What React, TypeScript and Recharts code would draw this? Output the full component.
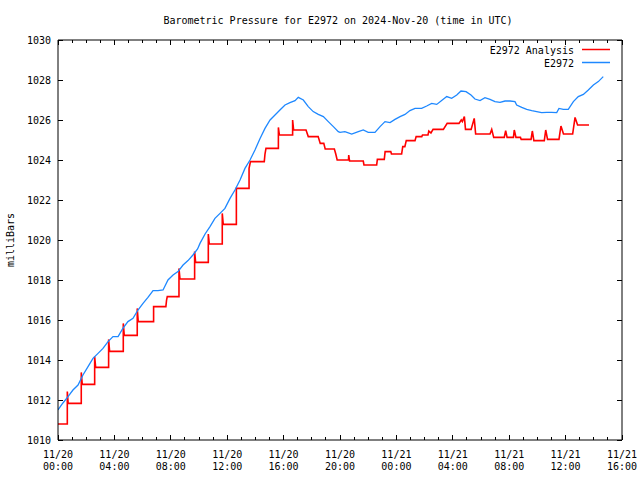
import { LineChart, Line, XAxis, YAxis, Legend } from "recharts";

// hours since 2024-11-20 00:00 UTC
const stationHours = [
  0, 0.35, 0.71, 1.06, 1.42, 1.77, 2.13, 2.48, 2.84, 3.19, 3.55, 3.9, 4.26, 4.6, 4.96,
  5.32, 5.67, 6.03, 6.38, 6.74, 7.09, 7.45, 7.8, 8.16, 8.51, 8.87, 9.22, 9.57, 9.9,
  10.07, 10.43, 10.78, 11.13, 11.49, 11.84, 12.2, 12.55, 12.91, 13.26, 13.62, 13.97,
  14.33, 14.68, 15.04, 15.39, 15.74, 16.1, 16.45, 16.81, 17.04, 17.4, 17.75, 18.1,
  18.46, 18.82, 19.17, 19.53, 19.88, 20.0, 20.35, 20.83, 21.3, 21.65, 22.0, 22.48,
  22.84, 23.19, 23.55, 23.9, 24.26, 24.61, 24.96, 25.32, 25.79, 26.15, 26.5, 26.86,
  27.21, 27.57, 27.92, 28.28, 28.58, 28.94, 29.29, 29.57, 29.93, 30.28, 30.64, 30.99,
  31.35, 31.7, 32.06, 32.41, 32.53, 32.89, 33.24, 33.6, 33.95, 34.3, 34.66, 35.01,
  35.37, 35.53, 35.84, 36.19, 36.55, 36.9, 37.26, 37.61, 37.97, 38.32, 38.67,
];
const stationValues = [
  1011.5, 1011.85, 1012.17, 1012.5, 1012.75, 1013.25, 1013.67, 1014.08, 1014.33, 1014.58,
  1014.92, 1015.17, 1015.17, 1015.58, 1015.92, 1016.08, 1016.5, 1016.83, 1017.13, 1017.47,
  1017.47, 1017.5, 1018.0, 1018.25, 1018.42, 1018.75, 1018.97, 1019.25, 1019.55, 1019.83,
  1020.3, 1020.67, 1021.08, 1021.33, 1021.58, 1022.08, 1022.5, 1023.0, 1023.58, 1024.0,
  1024.5, 1025.08, 1025.58, 1026.0, 1026.25, 1026.5, 1026.75, 1026.87, 1026.97, 1027.13,
  1027.0, 1026.67, 1026.42, 1026.28, 1026.17, 1025.92, 1025.67, 1025.42, 1025.38, 1025.42,
  1025.3, 1025.42, 1025.5, 1025.38, 1025.38, 1025.67, 1025.92, 1025.87, 1026.03, 1026.17,
  1026.28, 1026.47, 1026.58, 1026.58, 1026.7, 1026.83, 1026.78, 1026.97, 1027.17, 1027.08,
  1027.25, 1027.45, 1027.42, 1027.25, 1027.05, 1026.97, 1027.12, 1027.03, 1026.92, 1026.88,
  1026.95, 1026.95, 1026.92, 1026.75, 1026.63, 1026.53, 1026.47, 1026.42, 1026.37, 1026.38,
  1026.38, 1026.37, 1026.58, 1026.53, 1026.53, 1026.92, 1027.17, 1027.28, 1027.5, 1027.75,
  1027.92, 1028.17,
];

// analysis: stepped, vertices of the polyline
const analysisHours = [
  0, 0.66, 0.66, 0.72, 1.65, 1.65, 1.72, 2.6, 2.6, 2.67, 3.59, 3.59, 3.66, 4.63, 4.63,
  4.7, 5.62, 5.62, 5.69, 6.78, 6.78, 7.65, 7.7, 7.75, 8.58, 8.58, 8.65, 9.69, 9.69, 9.76,
  10.66, 10.66, 10.73, 11.65, 11.65, 11.72, 12.65, 12.65, 13.55, 13.55, 13.65, 14.63,
  14.68, 14.75, 15.63, 15.63, 15.7, 16.64, 16.64, 16.71, 17.59, 17.75, 18.45, 18.6, 18.85,
  18.95, 19.6, 19.7, 19.8, 20.6, 20.62, 20.68, 21.65, 21.7, 22.6, 22.65, 23.14, 23.2, 23.6,
  23.65, 24.37, 24.45, 24.6, 24.7, 25.32, 25.4, 25.8, 25.85, 26.24, 26.3, 26.45, 26.6,
  27.33, 27.6, 28.44, 28.6, 28.68, 28.82, 28.9, 29.3, 29.52, 29.62, 30.64, 30.76, 30.9,
  31.65, 31.75, 31.85, 32.3, 32.36, 32.48, 32.8, 32.85, 33.55, 33.64, 33.75, 34.49, 34.59,
  34.72, 35.53, 35.67, 35.85, 36.5, 36.67, 36.85, 37.66,
];
const analysisValues = [
  1010.8, 1010.8, 1012.42, 1011.83, 1011.83, 1013.38, 1012.78, 1012.78, 1014.17, 1013.63,
  1013.63, 1015.03, 1014.43, 1014.43, 1015.83, 1015.23, 1015.23, 1016.58, 1015.92, 1015.92,
  1016.67, 1016.67, 1017.0, 1017.17, 1017.17, 1018.58, 1018.05, 1018.05, 1019.42, 1018.88,
  1018.88, 1020.3, 1019.8, 1019.8, 1021.33, 1020.78, 1020.78, 1022.58, 1022.58, 1023.58,
  1023.92, 1023.92, 1024.3, 1024.58, 1024.58, 1025.63, 1025.25, 1025.25, 1026.0, 1025.5,
  1025.5, 1025.17, 1025.17, 1024.83, 1024.83, 1024.55, 1024.55, 1024.3, 1024.0, 1024.0,
  1024.25, 1023.95, 1023.95, 1023.75, 1023.75, 1024.03, 1024.03, 1024.42, 1024.42, 1024.3,
  1024.3, 1024.67, 1024.67, 1024.97, 1024.97, 1025.17, 1025.17, 1025.25, 1025.25, 1025.45,
  1025.35, 1025.53, 1025.53, 1025.83, 1025.83, 1026.0, 1025.92, 1026.17, 1025.53, 1025.53,
  1026.08, 1025.3, 1025.3, 1025.53, 1025.13, 1025.13, 1025.47, 1025.13, 1025.13, 1025.5,
  1025.13, 1025.13, 1025.03, 1025.03, 1025.45, 1024.97, 1024.97, 1025.5, 1025.03, 1025.03,
  1025.7, 1025.3, 1025.3, 1026.13, 1025.75, 1025.75,
];

const hourTicks = Array.from({ length: 41 }, (_, i) => i);
const xLabels = [
  ["11/20", "00:00"], ["11/20", "04:00"], ["11/20", "08:00"], ["11/20", "12:00"],
  ["11/20", "16:00"], ["11/20", "20:00"], ["11/21", "00:00"], ["11/21", "04:00"],
  ["11/21", "08:00"], ["11/21", "12:00"], ["11/21", "16:00"],
];
const yTicks = [1010, 1012, 1014, 1016, 1018, 1020, 1022, 1024, 1026, 1028, 1030];
const seriesNames = ["E2972 Analysis", "E2972"];

const station = stationHours.map((t, i) => ({ t, v: stationValues[i] }));
const analysis = analysisHours.map((t, i) => ({ t, v: analysisValues[i] }));

const FONT = "'DejaVu Sans Mono', monospace";
const RED = "#ff0000";
const BLUE = "#1e88ff";

const BottomTick = (props: any) => {
  const { x, y, payload } = props;
  const h = payload.value;
  const major = h % 4 === 0;
  const label = major ? xLabels[h / 4] : null;
  return (
    <g>
      <line x1={x} x2={x} y1={y} y2={y - (major ? 5 : 3)} stroke="#000" shapeRendering="crispEdges" />
      {label && (
        <text x={x} y={y + 18} textAnchor="middle" fontFamily={FONT} fontSize={10} fill="#000">
          <tspan x={x}>{label[0]}</tspan>
          <tspan x={x} dy={12}>{label[1]}</tspan>
        </text>
      )}
    </g>
  );
};

const TopTick = (props: any) => {
  const { x, y, payload } = props;
  const major = payload.value % 4 === 0;
  return <line x1={x} x2={x} y1={y} y2={y + (major ? 5 : 3)} stroke="#000" shapeRendering="crispEdges" />;
};

const LeftTick = (props: any) => {
  const { x, y, payload } = props;
  return (
    <g>
      <line x1={x} x2={x + 5} y1={y} y2={y} stroke="#000" shapeRendering="crispEdges" />
      <text x={x - 7} y={y} dy={3.6} textAnchor="end" fontFamily={FONT} fontSize={10} fill="#000">
        {payload.value}
      </text>
    </g>
  );
};

const RightTick = (props: any) => {
  const { x, y } = props;
  return <line x1={x} x2={x - 5} y1={y} y2={y} stroke="#000" shapeRendering="crispEdges" />;
};

const renderLegend = (props: any) => {
  const items = [...(props.payload || [])].sort(
    (a: any, b: any) => seriesNames.indexOf(a.value) - seriesNames.indexOf(b.value)
  );
  return (
    <svg width={640} height={34} style={{ display: "block" }}>
      {items.map((item: any, i: number) => (
        <g key={item.value}>
          <text x={574} y={14 + i * 13} textAnchor="end" fontFamily={FONT} fontSize={10} fill="#000">
            {item.value}
          </text>
          <line x1={582} x2={610} y1={9.5 + i * 13} y2={9.5 + i * 13} stroke={item.color} strokeWidth={1.5} />
        </g>
      ))}
    </svg>
  );
};

export default function App() {
  return (
    <div style={{ position: "absolute", left: 0, top: 0, width: 640, height: 480, background: "#fff" }}>
      <LineChart width={640} height={480} margin={{ top: 39, right: 17, bottom: 0, left: 0 }}>
        <text x={338} y={24} textAnchor="middle" fontFamily={FONT} fontSize={10} fill="#000">
          Barometric Pressure for E2972 on 2024-Nov-20 (time in UTC)
        </text>
        <XAxis
          type="number"
          dataKey="t"
          domain={[0, 40]}
          allowDataOverflow
          ticks={hourTicks}
          interval={0}
          height={40}
          tickSize={0}
          tickMargin={0}
          tickLine={false}
          axisLine={{ stroke: "#000" }}
          tick={<BottomTick />}
        />
        <XAxis
          xAxisId="top"
          orientation="top"
          type="number"
          dataKey="t"
          domain={[0, 40]}
          allowDataOverflow
          ticks={hourTicks}
          interval={0}
          height={1}
          tickSize={0}
          tickMargin={0}
          tickLine={false}
          axisLine={{ stroke: "#000" }}
          tick={<TopTick />}
        />
        <YAxis
          type="number"
          domain={[1010, 1030]}
          allowDataOverflow
          ticks={yTicks}
          interval={0}
          width={58}
          tickSize={0}
          tickMargin={0}
          tickLine={false}
          axisLine={{ stroke: "#000" }}
          tick={<LeftTick />}
          label={{
            value: "milliBars",
            angle: -90,
            position: "insideLeft",
            offset: 10,
            style: { textAnchor: "middle", fontFamily: FONT, fontSize: 10, fill: "#000" },
          }}
        />
        <YAxis
          yAxisId="right"
          orientation="right"
          type="number"
          domain={[1010, 1030]}
          allowDataOverflow
          ticks={yTicks}
          interval={0}
          width={1}
          tickSize={0}
          tickMargin={0}
          tickLine={false}
          axisLine={{ stroke: "#000" }}
          tick={<RightTick />}
        />
        <Legend
          layout="vertical"
          align="center"
          verticalAlign="middle"
          content={renderLegend}
          wrapperStyle={{ top: 40, left: 0, width: 640, height: 34 }}
        />
        <Line
          data={analysis}
          dataKey="v"
          name="E2972 Analysis"
          xAxisId="top"
          yAxisId="right"
          type="linear"
          stroke={RED}
          strokeWidth={1.6}
          dot={false}
          activeDot={false}
          isAnimationActive={false}
        />
        <Line
          data={station}
          dataKey="v"
          name="E2972"
          type="linear"
          stroke={BLUE}
          strokeWidth={1.3}
          dot={false}
          activeDot={false}
          isAnimationActive={false}
        />
      </LineChart>
    </div>
  );
}
